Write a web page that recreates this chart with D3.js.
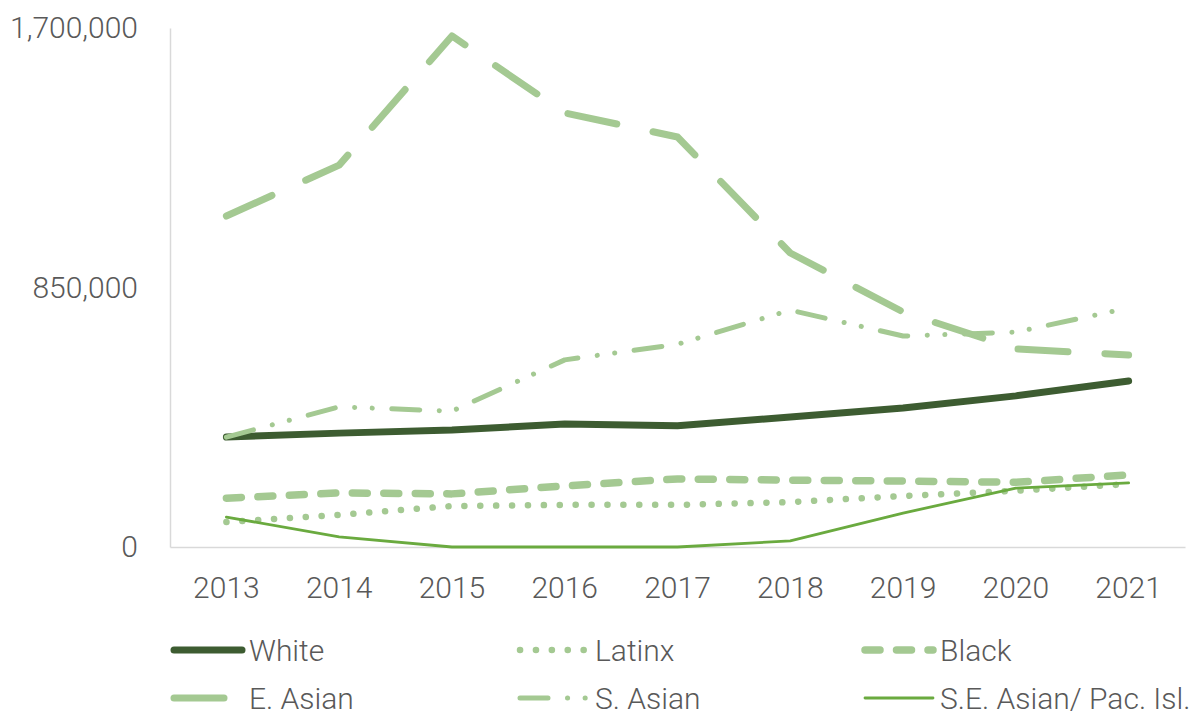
<!DOCTYPE html>
<html>
<head>
<meta charset="utf-8">
<script src="https://cdn.jsdelivr.net/npm/d3@7"></script>
<style>
	html, body { margin: 0; padding: 0; background: #ffffff; }
	svg { display: block; }
	text { font-family: Roboto, "Liberation Sans", sans-serif; font-weight: 300; fill: #595959; }
</style>
</head>
<body>
<svg id="chart" width="1200" height="715"></svg>
<script>

// Chart data
const years = ["2013", "2014", "2015", "2016", "2017", "2018", "2019", "2020", "2021"];
const seriesNames = ["White", "Latinx", "Black", "E. Asian", "S. Asian", "S.E. Asian/ Pac. Isl."];

const white    = [360000, 373000, 383000, 403000, 397000, 426000, 455000, 495000, 544000];
const latinx   = [ 82000, 105000, 134000, 138000, 138000, 147000, 167000, 184000, 206000];
const black    = [160000, 177000, 174000, 200000, 223000, 219000, 216000, 212000, 236000];
const eAsian   = [1084000, 1251000, 1674000, 1422000, 1343000, 963000, 770000, 649000, 629000];
const sAsian   = [360000, 459000, 445000, 613000, 664000, 776000, 691000, 704000, 783000];
const seAsian  = [ 98000,  33000,      0,      0,      0,  20000, 111000, 193000, 210000];

const yTicks = [0, 850000, 1700000];

const seriesValues = [white, latinx, black, eAsian, sAsian, seAsian];

// Line looks for each series (kept apart from the data)
const lineStyles = {
	"White":                 { color: "#3d5c31", width: 7,   dash: null },
	"Latinx":                { color: "#a4c992", width: 6.5, dash: "0.1 15.8" },
	"Black":                 { color: "#a4c992", width: 7.5, dash: "15 16.5" },
	"E. Asian":              { color: "#a4c992", width: 7,   dash: "50 37" },
	"S. Asian":              { color: "#a4c992", width: 5,   dash: "28 19.5 0.1 17.5 0.1 19.5" },
	"S.E. Asian/ Pac. Isl.": { color: "#6aaa3f", width: 2.8, dash: null }
};

const svg = d3.select("#chart");

// plot area
const plotLeft = 170, plotRight = 1185, plotTop = 28, plotBottom = 547;

const scaleX = d3.scaleBand()
	.domain(years)
	.range([plotLeft, plotRight]);

const xPos = (year) => scaleX(year) + scaleX.bandwidth() / 2;

const scaleY = d3.scaleLinear()
	.domain([0, 1700000])
	.range([plotBottom, plotTop]);

// Axes
const yAxis = svg.append("g")
	.attr("transform", `translate(${plotLeft},0)`)
	.call(d3.axisLeft(scaleY)
		.tickValues(yTicks)
		.tickFormat(d3.format(","))
		.tickSize(0)
		.tickPadding(32));

const xAxis = svg.append("g")
	.attr("transform", `translate(0,${plotBottom})`)
	.call(d3.axisBottom(scaleX)
		.tickSize(0)
		.tickPadding(30));

[yAxis, xAxis].forEach(axis => {
	axis.attr("font-family", null).attr("font-size", null);
	axis.select(".domain").attr("stroke", "#d9d9d9").attr("stroke-width", 1.5);
	axis.selectAll("text")
		.style("font-size", "30px")
		.attr("fill", "#595959");
});

// Lines
const lineGenerator = d3.line()
	.x((val, i) => xPos(years[i]))
	.y((val) => scaleY(val));

const applyStyle = (sel, name) => {
	const st = lineStyles[name];
	sel.attr("fill", "none")
		.attr("stroke", st.color)
		.attr("stroke-width", st.width)
		.attr("stroke-linecap", "round")
		.attr("stroke-linejoin", "round");
	if (st.dash) sel.attr("stroke-dasharray", st.dash);
};

const plotArea = svg.append("g");
seriesNames.forEach((name, idx) => {
	plotArea.append("path")
		.datum(seriesValues[idx])
		.attr("d", lineGenerator)
		.call(applyStyle, name);
});

// Legend, two rows of three
const legendCols = [172, 518, 863];
const legendRows = [650, 698];
const legend = svg.append("g");

seriesNames.forEach((name, idx) => {
	const x0 = legendCols[idx % 3];
	const y0 = legendRows[Math.floor(idx / 3)];
	legend.append("line")
		.attr("x1", x0 + 2)
		.attr("x2", x0 + 70)
		.attr("y1", y0)
		.attr("y2", y0)
		.call(applyStyle, name);
	legend.append("text")
		.attr("x", x0 + 77)
		.attr("y", y0)
		.attr("dy", "0.35em")
		.style("font-size", "30px")
		.text(name);
});

</script>
</body>
</html>
